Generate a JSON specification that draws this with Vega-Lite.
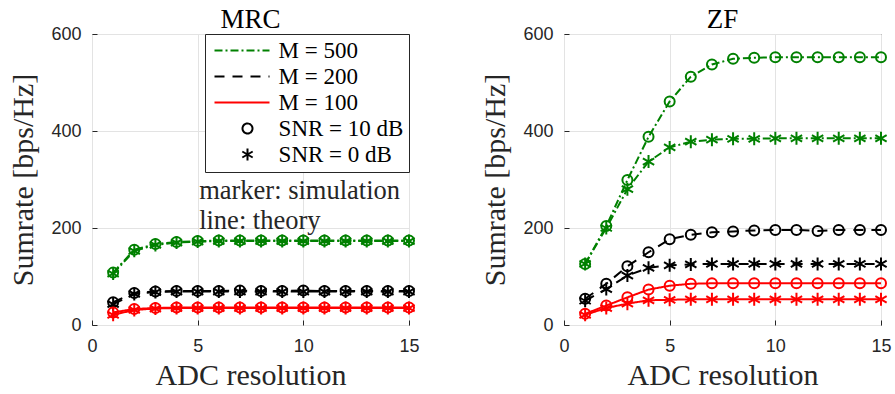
{
"$schema": "https://vega.github.io/schema/vega-lite/v6.json",
"background": "white",
"padding": {"left": 8, "top": 5, "right": 3, "bottom": 3},
"config": {
  "view": {"stroke": "#262626", "strokeWidth": 1},
  "title": {"font": "Liberation Serif", "fontSize": 27, "fontWeight": "normal", "color": "#000000", "offset": -9},
  "axis": {"labelFont": "Liberation Sans", "labelFontSize": 18, "labelColor": "#262626", "titleFont": "Liberation Serif", "titleFontSize": 30, "titleFontWeight": "normal", "titleColor": "#262626", "gridColor": "#e3e3e3", "domain": false, "tickColor": "#262626", "tickSize": -5},
  "axisX": {"labelPadding": 17, "titlePadding": 5},
  "axisY": {"labelPadding": 16, "titlePadding": 12},
  "legend": {"orient": "top-right", "offset": 0, "strokeColor": "#262626", "fillColor": "white", "padding": 5, "labelFont": "Liberation Serif", "labelFontSize": 23, "labelColor": "#000000", "symbolSize": 100, "symbolStrokeWidth": 2, "rowPadding": 2}
},
"data": {"values": [
{"p":"MRC","M":"M = 500","S":"SNR = 10 dB","x":1,"y":108},{"p":"MRC","M":"M = 500","S":"SNR = 10 dB","x":2,"y":155},{"p":"MRC","M":"M = 500","S":"SNR = 10 dB","x":3,"y":167},{"p":"MRC","M":"M = 500","S":"SNR = 10 dB","x":4,"y":171},{"p":"MRC","M":"M = 500","S":"SNR = 10 dB","x":5,"y":173},{"p":"MRC","M":"M = 500","S":"SNR = 10 dB","x":6,"y":174},{"p":"MRC","M":"M = 500","S":"SNR = 10 dB","x":7,"y":174},{"p":"MRC","M":"M = 500","S":"SNR = 10 dB","x":8,"y":174},{"p":"MRC","M":"M = 500","S":"SNR = 10 dB","x":9,"y":174},{"p":"MRC","M":"M = 500","S":"SNR = 10 dB","x":10,"y":174},{"p":"MRC","M":"M = 500","S":"SNR = 10 dB","x":11,"y":174},{"p":"MRC","M":"M = 500","S":"SNR = 10 dB","x":12,"y":174},{"p":"MRC","M":"M = 500","S":"SNR = 10 dB","x":13,"y":174},{"p":"MRC","M":"M = 500","S":"SNR = 10 dB","x":14,"y":174},{"p":"MRC","M":"M = 500","S":"SNR = 10 dB","x":15,"y":174},
{"p":"MRC","M":"M = 500","S":"SNR = 0 dB","x":1,"y":106},{"p":"MRC","M":"M = 500","S":"SNR = 0 dB","x":2,"y":153},{"p":"MRC","M":"M = 500","S":"SNR = 0 dB","x":3,"y":165},{"p":"MRC","M":"M = 500","S":"SNR = 0 dB","x":4,"y":170},{"p":"MRC","M":"M = 500","S":"SNR = 0 dB","x":5,"y":172},{"p":"MRC","M":"M = 500","S":"SNR = 0 dB","x":6,"y":173},{"p":"MRC","M":"M = 500","S":"SNR = 0 dB","x":7,"y":173},{"p":"MRC","M":"M = 500","S":"SNR = 0 dB","x":8,"y":173},{"p":"MRC","M":"M = 500","S":"SNR = 0 dB","x":9,"y":173},{"p":"MRC","M":"M = 500","S":"SNR = 0 dB","x":10,"y":173},{"p":"MRC","M":"M = 500","S":"SNR = 0 dB","x":11,"y":173},{"p":"MRC","M":"M = 500","S":"SNR = 0 dB","x":12,"y":173},{"p":"MRC","M":"M = 500","S":"SNR = 0 dB","x":13,"y":173},{"p":"MRC","M":"M = 500","S":"SNR = 0 dB","x":14,"y":173},{"p":"MRC","M":"M = 500","S":"SNR = 0 dB","x":15,"y":173},
{"p":"MRC","M":"M = 200","S":"SNR = 10 dB","x":1,"y":47},{"p":"MRC","M":"M = 200","S":"SNR = 10 dB","x":2,"y":66},{"p":"MRC","M":"M = 200","S":"SNR = 10 dB","x":3,"y":69},{"p":"MRC","M":"M = 200","S":"SNR = 10 dB","x":4,"y":70},{"p":"MRC","M":"M = 200","S":"SNR = 10 dB","x":5,"y":70},{"p":"MRC","M":"M = 200","S":"SNR = 10 dB","x":6,"y":70},{"p":"MRC","M":"M = 200","S":"SNR = 10 dB","x":7,"y":71},{"p":"MRC","M":"M = 200","S":"SNR = 10 dB","x":8,"y":70},{"p":"MRC","M":"M = 200","S":"SNR = 10 dB","x":9,"y":70},{"p":"MRC","M":"M = 200","S":"SNR = 10 dB","x":10,"y":71},{"p":"MRC","M":"M = 200","S":"SNR = 10 dB","x":11,"y":70},{"p":"MRC","M":"M = 200","S":"SNR = 10 dB","x":12,"y":70},{"p":"MRC","M":"M = 200","S":"SNR = 10 dB","x":13,"y":70},{"p":"MRC","M":"M = 200","S":"SNR = 10 dB","x":14,"y":70},{"p":"MRC","M":"M = 200","S":"SNR = 10 dB","x":15,"y":70},
{"p":"MRC","M":"M = 200","S":"SNR = 0 dB","x":1,"y":43},{"p":"MRC","M":"M = 200","S":"SNR = 0 dB","x":2,"y":64},{"p":"MRC","M":"M = 200","S":"SNR = 0 dB","x":3,"y":68},{"p":"MRC","M":"M = 200","S":"SNR = 0 dB","x":4,"y":69},{"p":"MRC","M":"M = 200","S":"SNR = 0 dB","x":5,"y":69},{"p":"MRC","M":"M = 200","S":"SNR = 0 dB","x":6,"y":69},{"p":"MRC","M":"M = 200","S":"SNR = 0 dB","x":7,"y":69},{"p":"MRC","M":"M = 200","S":"SNR = 0 dB","x":8,"y":69},{"p":"MRC","M":"M = 200","S":"SNR = 0 dB","x":9,"y":69},{"p":"MRC","M":"M = 200","S":"SNR = 0 dB","x":10,"y":69},{"p":"MRC","M":"M = 200","S":"SNR = 0 dB","x":11,"y":69},{"p":"MRC","M":"M = 200","S":"SNR = 0 dB","x":12,"y":69},{"p":"MRC","M":"M = 200","S":"SNR = 0 dB","x":13,"y":69},{"p":"MRC","M":"M = 200","S":"SNR = 0 dB","x":14,"y":69},{"p":"MRC","M":"M = 200","S":"SNR = 0 dB","x":15,"y":69},
{"p":"MRC","M":"M = 100","S":"SNR = 10 dB","x":1,"y":26},{"p":"MRC","M":"M = 100","S":"SNR = 10 dB","x":2,"y":33},{"p":"MRC","M":"M = 100","S":"SNR = 10 dB","x":3,"y":35},{"p":"MRC","M":"M = 100","S":"SNR = 10 dB","x":4,"y":36},{"p":"MRC","M":"M = 100","S":"SNR = 10 dB","x":5,"y":36},{"p":"MRC","M":"M = 100","S":"SNR = 10 dB","x":6,"y":36},{"p":"MRC","M":"M = 100","S":"SNR = 10 dB","x":7,"y":36},{"p":"MRC","M":"M = 100","S":"SNR = 10 dB","x":8,"y":36},{"p":"MRC","M":"M = 100","S":"SNR = 10 dB","x":9,"y":36},{"p":"MRC","M":"M = 100","S":"SNR = 10 dB","x":10,"y":36},{"p":"MRC","M":"M = 100","S":"SNR = 10 dB","x":11,"y":36},{"p":"MRC","M":"M = 100","S":"SNR = 10 dB","x":12,"y":36},{"p":"MRC","M":"M = 100","S":"SNR = 10 dB","x":13,"y":36},{"p":"MRC","M":"M = 100","S":"SNR = 10 dB","x":14,"y":36},{"p":"MRC","M":"M = 100","S":"SNR = 10 dB","x":15,"y":36},
{"p":"MRC","M":"M = 100","S":"SNR = 0 dB","x":1,"y":21},{"p":"MRC","M":"M = 100","S":"SNR = 0 dB","x":2,"y":31},{"p":"MRC","M":"M = 100","S":"SNR = 0 dB","x":3,"y":34},{"p":"MRC","M":"M = 100","S":"SNR = 0 dB","x":4,"y":35},{"p":"MRC","M":"M = 100","S":"SNR = 0 dB","x":5,"y":35},{"p":"MRC","M":"M = 100","S":"SNR = 0 dB","x":6,"y":35},{"p":"MRC","M":"M = 100","S":"SNR = 0 dB","x":7,"y":35},{"p":"MRC","M":"M = 100","S":"SNR = 0 dB","x":8,"y":35},{"p":"MRC","M":"M = 100","S":"SNR = 0 dB","x":9,"y":35},{"p":"MRC","M":"M = 100","S":"SNR = 0 dB","x":10,"y":35},{"p":"MRC","M":"M = 100","S":"SNR = 0 dB","x":11,"y":35},{"p":"MRC","M":"M = 100","S":"SNR = 0 dB","x":12,"y":35},{"p":"MRC","M":"M = 100","S":"SNR = 0 dB","x":13,"y":35},{"p":"MRC","M":"M = 100","S":"SNR = 0 dB","x":14,"y":35},{"p":"MRC","M":"M = 100","S":"SNR = 0 dB","x":15,"y":35},
{"p":"ZF","M":"M = 500","S":"SNR = 10 dB","x":1,"y":126},{"p":"ZF","M":"M = 500","S":"SNR = 10 dB","x":2,"y":204},{"p":"ZF","M":"M = 500","S":"SNR = 10 dB","x":3,"y":299},{"p":"ZF","M":"M = 500","S":"SNR = 10 dB","x":4,"y":388},{"p":"ZF","M":"M = 500","S":"SNR = 10 dB","x":5,"y":461},{"p":"ZF","M":"M = 500","S":"SNR = 10 dB","x":6,"y":512},{"p":"ZF","M":"M = 500","S":"SNR = 10 dB","x":7,"y":537},{"p":"ZF","M":"M = 500","S":"SNR = 10 dB","x":8,"y":549},{"p":"ZF","M":"M = 500","S":"SNR = 10 dB","x":9,"y":551},{"p":"ZF","M":"M = 500","S":"SNR = 10 dB","x":10,"y":552},{"p":"ZF","M":"M = 500","S":"SNR = 10 dB","x":11,"y":552},{"p":"ZF","M":"M = 500","S":"SNR = 10 dB","x":12,"y":552},{"p":"ZF","M":"M = 500","S":"SNR = 10 dB","x":13,"y":552},{"p":"ZF","M":"M = 500","S":"SNR = 10 dB","x":14,"y":552},{"p":"ZF","M":"M = 500","S":"SNR = 10 dB","x":15,"y":552},
{"p":"ZF","M":"M = 500","S":"SNR = 0 dB","x":1,"y":126},{"p":"ZF","M":"M = 500","S":"SNR = 0 dB","x":2,"y":200},{"p":"ZF","M":"M = 500","S":"SNR = 0 dB","x":3,"y":280},{"p":"ZF","M":"M = 500","S":"SNR = 0 dB","x":4,"y":337},{"p":"ZF","M":"M = 500","S":"SNR = 0 dB","x":5,"y":366},{"p":"ZF","M":"M = 500","S":"SNR = 0 dB","x":6,"y":378},{"p":"ZF","M":"M = 500","S":"SNR = 0 dB","x":7,"y":382},{"p":"ZF","M":"M = 500","S":"SNR = 0 dB","x":8,"y":384},{"p":"ZF","M":"M = 500","S":"SNR = 0 dB","x":9,"y":384},{"p":"ZF","M":"M = 500","S":"SNR = 0 dB","x":10,"y":385},{"p":"ZF","M":"M = 500","S":"SNR = 0 dB","x":11,"y":385},{"p":"ZF","M":"M = 500","S":"SNR = 0 dB","x":12,"y":385},{"p":"ZF","M":"M = 500","S":"SNR = 0 dB","x":13,"y":385},{"p":"ZF","M":"M = 500","S":"SNR = 0 dB","x":14,"y":385},{"p":"ZF","M":"M = 500","S":"SNR = 0 dB","x":15,"y":385},
{"p":"ZF","M":"M = 200","S":"SNR = 10 dB","x":1,"y":54},{"p":"ZF","M":"M = 200","S":"SNR = 10 dB","x":2,"y":85},{"p":"ZF","M":"M = 200","S":"SNR = 10 dB","x":3,"y":121},{"p":"ZF","M":"M = 200","S":"SNR = 10 dB","x":4,"y":150},{"p":"ZF","M":"M = 200","S":"SNR = 10 dB","x":5,"y":177},{"p":"ZF","M":"M = 200","S":"SNR = 10 dB","x":6,"y":186},{"p":"ZF","M":"M = 200","S":"SNR = 10 dB","x":7,"y":191},{"p":"ZF","M":"M = 200","S":"SNR = 10 dB","x":8,"y":193},{"p":"ZF","M":"M = 200","S":"SNR = 10 dB","x":9,"y":195},{"p":"ZF","M":"M = 200","S":"SNR = 10 dB","x":10,"y":196},{"p":"ZF","M":"M = 200","S":"SNR = 10 dB","x":11,"y":196},{"p":"ZF","M":"M = 200","S":"SNR = 10 dB","x":12,"y":194},{"p":"ZF","M":"M = 200","S":"SNR = 10 dB","x":13,"y":196},{"p":"ZF","M":"M = 200","S":"SNR = 10 dB","x":14,"y":196},{"p":"ZF","M":"M = 200","S":"SNR = 10 dB","x":15,"y":196},
{"p":"ZF","M":"M = 200","S":"SNR = 0 dB","x":1,"y":50},{"p":"ZF","M":"M = 200","S":"SNR = 0 dB","x":2,"y":74},{"p":"ZF","M":"M = 200","S":"SNR = 0 dB","x":3,"y":102},{"p":"ZF","M":"M = 200","S":"SNR = 0 dB","x":4,"y":118},{"p":"ZF","M":"M = 200","S":"SNR = 0 dB","x":5,"y":123},{"p":"ZF","M":"M = 200","S":"SNR = 0 dB","x":6,"y":125},{"p":"ZF","M":"M = 200","S":"SNR = 0 dB","x":7,"y":126},{"p":"ZF","M":"M = 200","S":"SNR = 0 dB","x":8,"y":126},{"p":"ZF","M":"M = 200","S":"SNR = 0 dB","x":9,"y":126},{"p":"ZF","M":"M = 200","S":"SNR = 0 dB","x":10,"y":126},{"p":"ZF","M":"M = 200","S":"SNR = 0 dB","x":11,"y":126},{"p":"ZF","M":"M = 200","S":"SNR = 0 dB","x":12,"y":126},{"p":"ZF","M":"M = 200","S":"SNR = 0 dB","x":13,"y":126},{"p":"ZF","M":"M = 200","S":"SNR = 0 dB","x":14,"y":126},{"p":"ZF","M":"M = 200","S":"SNR = 0 dB","x":15,"y":126},
{"p":"ZF","M":"M = 100","S":"SNR = 10 dB","x":1,"y":23},{"p":"ZF","M":"M = 100","S":"SNR = 10 dB","x":2,"y":40},{"p":"ZF","M":"M = 100","S":"SNR = 10 dB","x":3,"y":57},{"p":"ZF","M":"M = 100","S":"SNR = 10 dB","x":4,"y":73},{"p":"ZF","M":"M = 100","S":"SNR = 10 dB","x":5,"y":81},{"p":"ZF","M":"M = 100","S":"SNR = 10 dB","x":6,"y":85},{"p":"ZF","M":"M = 100","S":"SNR = 10 dB","x":7,"y":86},{"p":"ZF","M":"M = 100","S":"SNR = 10 dB","x":8,"y":86},{"p":"ZF","M":"M = 100","S":"SNR = 10 dB","x":9,"y":86},{"p":"ZF","M":"M = 100","S":"SNR = 10 dB","x":10,"y":86},{"p":"ZF","M":"M = 100","S":"SNR = 10 dB","x":11,"y":86},{"p":"ZF","M":"M = 100","S":"SNR = 10 dB","x":12,"y":86},{"p":"ZF","M":"M = 100","S":"SNR = 10 dB","x":13,"y":86},{"p":"ZF","M":"M = 100","S":"SNR = 10 dB","x":14,"y":86},{"p":"ZF","M":"M = 100","S":"SNR = 10 dB","x":15,"y":86},
{"p":"ZF","M":"M = 100","S":"SNR = 0 dB","x":1,"y":21},{"p":"ZF","M":"M = 100","S":"SNR = 0 dB","x":2,"y":35},{"p":"ZF","M":"M = 100","S":"SNR = 0 dB","x":3,"y":44},{"p":"ZF","M":"M = 100","S":"SNR = 0 dB","x":4,"y":51},{"p":"ZF","M":"M = 100","S":"SNR = 0 dB","x":5,"y":52},{"p":"ZF","M":"M = 100","S":"SNR = 0 dB","x":6,"y":53},{"p":"ZF","M":"M = 100","S":"SNR = 0 dB","x":7,"y":53},{"p":"ZF","M":"M = 100","S":"SNR = 0 dB","x":8,"y":53},{"p":"ZF","M":"M = 100","S":"SNR = 0 dB","x":9,"y":53},{"p":"ZF","M":"M = 100","S":"SNR = 0 dB","x":10,"y":53},{"p":"ZF","M":"M = 100","S":"SNR = 0 dB","x":11,"y":53},{"p":"ZF","M":"M = 100","S":"SNR = 0 dB","x":12,"y":53},{"p":"ZF","M":"M = 100","S":"SNR = 0 dB","x":13,"y":53},{"p":"ZF","M":"M = 100","S":"SNR = 0 dB","x":14,"y":53},{"p":"ZF","M":"M = 100","S":"SNR = 0 dB","x":15,"y":53}
]},
"spacing": 60,
"resolve": {"scale": {"color": "independent", "shape": "independent", "strokeDash": "independent"}, "legend": {"color": "independent", "shape": "independent", "strokeDash": "independent"}},
"hconcat": [
{
  "width": 317, "height": 291,
  "title": "MRC",
  "resolve": {"scale": {"shape": "independent"}, "legend": {"shape": "independent"}},
  "layer": [
    {
      "transform": [{"filter": "datum.p === 'MRC'"}],
      "mark": {"type": "line", "strokeWidth": 2},
      "encoding": {
        "x": {"field": "x", "type": "quantitative", "scale": {"domain": [0, 15], "nice": false}, "axis": {"values": [0, 5, 10, 15], "title": "ADC resolution", "labelFlush": false}},
        "y": {"field": "y", "type": "quantitative", "scale": {"domain": [0, 600], "nice": false}, "axis": {"values": [0, 200, 400, 600], "title": "Sumrate [bps/Hz]"}},
        "color": {"field": "M", "type": "nominal", "scale": {"domain": ["M = 500", "M = 200", "M = 100"], "range": ["#008000", "#000000", "#ff0000"]}, "legend": null},
        "strokeDash": {"field": "M", "type": "nominal", "scale": {"domain": ["M = 500", "M = 200", "M = 100"], "range": [[8, 3, 2, 3], [10, 8], [1, 0]]}, "legend": null},
        "detail": {"field": "S"}
      }
    },
    {
      "transform": [{"filter": "datum.p === 'MRC'"}],
      "mark": {"type": "point", "filled": false, "strokeWidth": 2, "size": 100, "opacity": 1},
      "encoding": {
        "x": {"field": "x", "type": "quantitative"},
        "y": {"field": "y", "type": "quantitative"},
        "color": {"field": "M", "type": "nominal", "legend": null},
        "shape": {"field": "S", "type": "nominal",
          "scale": {"domain": ["SNR = 10 dB", "SNR = 0 dB"], "range": ["circle", "M0,-1.3L0,1.3M-1.13,-0.65L1.13,0.65M-1.13,0.65L1.13,-0.65"]},
          "legend": null}
      }
    },
    {
      "transform": [{"filter": "datum.p === 'MRC' && datum.x === 1"}],
      "mark": {"type": "point", "filled": false, "strokeWidth": 2, "size": 100, "opacity": 0},
      "encoding": {
        "x": {"field": "x", "type": "quantitative"},
        "y": {"field": "y", "type": "quantitative"},
        "color": {"field": "M", "type": "nominal", "legend": null},
        "shape": {"field": "S", "type": "nominal",
          "scale": {"domain": ["M = 500", "M = 200", "M = 100", "SNR = 10 dB", "SNR = 0 dB"],
                    "range": ["M-1.4,0L9.6,0", "M-1.4,0L9.6,0", "M-1.4,0L9.6,0", "M6.2,0A1,1,0,1,1,4.2,0A1,1,0,1,1,6.2,0Z", "M5.2,-1.2L5.2,1.2M4.16,-0.6L6.24,0.6M4.16,0.6L6.24,-0.6"]},
          "legend": {"title": null, "labelOffset": 45.6, "symbolOpacity": 1, "symbolFillColor": "transparent", "symbolStrokeWidth": 2,
            "symbolStrokeColor": {"expr": "datum.value === 'M = 500' ? '#008000' : datum.value === 'M = 100' ? '#ff0000' : '#000000'"},
            "symbolDash": {"expr": "datum.value === 'M = 500' ? [8, 3, 2, 3] : datum.value === 'M = 200' ? [10, 8] : [1, 0]"}}
        }
      }
    },
    {
      "data": {"values": [{"tx": 5.07, "ty": 260, "t": "marker: simulation"}, {"tx": 5.07, "ty": 198, "t": "line: theory"}]},
      "mark": {"type": "text", "align": "left", "baseline": "alphabetic", "font": "Liberation Serif", "fontSize": 26.5, "color": "#262626"},
      "encoding": {
        "x": {"field": "tx", "type": "quantitative"},
        "y": {"field": "ty", "type": "quantitative"},
        "text": {"field": "t"}
      }
    }
  ]
},
{
  "width": 317, "height": 291,
  "title": "ZF",
  "layer": [
    {
      "transform": [{"filter": "datum.p === 'ZF'"}],
      "mark": {"type": "line", "strokeWidth": 2},
      "encoding": {
        "x": {"field": "x", "type": "quantitative", "scale": {"domain": [0, 15], "nice": false}, "axis": {"values": [0, 5, 10, 15], "title": "ADC resolution", "labelFlush": false}},
        "y": {"field": "y", "type": "quantitative", "scale": {"domain": [0, 600], "nice": false}, "axis": {"values": [0, 200, 400, 600], "title": "Sumrate [bps/Hz]"}},
        "color": {"field": "M", "type": "nominal", "scale": {"domain": ["M = 500", "M = 200", "M = 100"], "range": ["#008000", "#000000", "#ff0000"]}, "legend": null},
        "strokeDash": {"field": "M", "type": "nominal", "scale": {"domain": ["M = 500", "M = 200", "M = 100"], "range": [[8, 3, 2, 3], [10, 8], [1, 0]]}, "legend": null},
        "detail": {"field": "S"}
      }
    },
    {
      "transform": [{"filter": "datum.p === 'ZF'"}],
      "mark": {"type": "point", "filled": false, "strokeWidth": 2, "size": 100, "opacity": 1},
      "encoding": {
        "x": {"field": "x", "type": "quantitative"},
        "y": {"field": "y", "type": "quantitative"},
        "color": {"field": "M", "type": "nominal", "legend": null},
        "shape": {"field": "S", "type": "nominal",
          "scale": {"domain": ["SNR = 10 dB", "SNR = 0 dB"], "range": ["circle", "M0,-1.3L0,1.3M-1.13,-0.65L1.13,0.65M-1.13,0.65L1.13,-0.65"]},
          "legend": null}
      }
    }
  ]
}
]
}
